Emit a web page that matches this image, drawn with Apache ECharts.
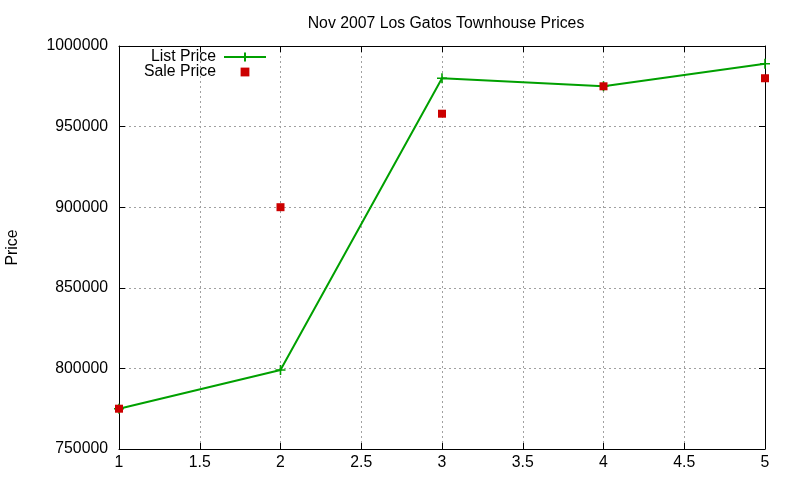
<!DOCTYPE html>
<html>
<head>
<meta charset="utf-8">
<script src="https://cdn.jsdelivr.net/npm/echarts@6/dist/echarts.min.js"></script>
<style>
html,body{margin:0;padding:0;background:#fff;}
#chart{width:800px;height:480px;}
</style>
</head>
<body>
<div id="chart"></div>
<script>
var xValues = [1, 2, 3, 4, 5];
var listPrice = [775000, 799000, 980000, 975000, 989000];
var salePrice = [775000, 900000, 958000, 975000, 980000];
var seriesNames = ['List Price', 'Sale Price'];
var titleText = 'Nov 2007 Los Gatos Townhouse Prices';
var yName = 'Price';

var FONT = 'Liberation Sans, Arial, sans-serif';
var FS = 15.8;
var green = '#00a000';
var red = '#cc0000';
var plusPath = 'path://M0,5 L10,5 M5,0 L5,10';

function pairs(xs, ys){ return xs.map(function(x,i){ return [x, ys[i]]; }); }

var chart = echarts.init(document.getElementById('chart'), null, {renderer:'canvas'});
var gridLine = {show:true, lineStyle:{color:'#a0a0a0', type:[2,3], width:1}};
var option = {
  backgroundColor:'#ffffff',
  animation:false,
  title:{text:titleText, left:441, top:11, textAlign:'center',
    textStyle:{fontFamily:FONT, fontSize:FS, fontWeight:'normal', color:'#000'}},
  legend:{
    orient:'vertical', align:'right', right:528, top:44,
    itemWidth:42, itemHeight:11, itemGap:-1,
    textStyle:{fontFamily:FONT, fontSize:FS, color:'#000', lineHeight:16, padding:[0,3,0,0]},
    data:seriesNames
  },
  grid:{left:119, right:35, top:46, bottom:31, containLabel:false, outerBoundsMode:'none'},
  xAxis:[{
    type:'value', min:1, max:5, interval:0.5, position:'bottom',
    axisLine:{show:true, onZero:false, lineStyle:{color:'#000', width:1}},
    axisTick:{show:true, inside:true, length:6, lineStyle:{color:'#000'}},
    axisLabel:{fontFamily:FONT, fontSize:FS, color:'#000', margin:6},
    splitLine:gridLine
  },{
    type:'value', min:1, max:5, interval:0.5, position:'top',
    axisLine:{show:true, onZero:false, lineStyle:{color:'#000', width:1}},
    axisTick:{show:true, inside:true, length:6, lineStyle:{color:'#000'}},
    axisLabel:{show:false}, splitLine:{show:false}
  }],
  yAxis:[{
    type:'value', min:750000, max:1000000, interval:50000, position:'left',
    name:yName, nameLocation:'middle', nameRotate:90, nameGap:98,
    nameTextStyle:{fontFamily:FONT, fontSize:FS, color:'#000'},
    axisLine:{show:true, onZero:false, lineStyle:{color:'#000', width:1}},
    axisTick:{show:true, inside:true, length:6, lineStyle:{color:'#000'}},
    axisLabel:{fontFamily:FONT, fontSize:FS, color:'#000', margin:11,
      formatter:function(v){ return String(v); }},
    splitLine:gridLine
  },{
    type:'value', min:750000, max:1000000, interval:50000, position:'right',
    axisLine:{show:true, onZero:false, lineStyle:{color:'#000', width:1}},
    axisTick:{show:true, inside:true, length:6, lineStyle:{color:'#000'}},
    axisLabel:{show:false}, splitLine:{show:false}
  }],
  series:[{
    name:seriesNames[0], type:'line', xAxisIndex:0, yAxisIndex:0,
    data:pairs(xValues, listPrice), clip:false,
    symbol:plusPath, symbolSize:10, showAllSymbol:true,
    lineStyle:{color:green, width:2},
    itemStyle:{color:green, borderColor:green, borderWidth:1.6},
    z:2
  },{
    name:seriesNames[1], type:'line', xAxisIndex:0, yAxisIndex:0,
    data:pairs(xValues, salePrice), clip:false,
    symbol:'rect', symbolSize:8, showAllSymbol:true,
    lineStyle:{color:red, width:0, opacity:0},
    itemStyle:{color:red, borderWidth:0},
    z:3
  }]
};
chart.setOption(option);
</script>
</body>
</html>
